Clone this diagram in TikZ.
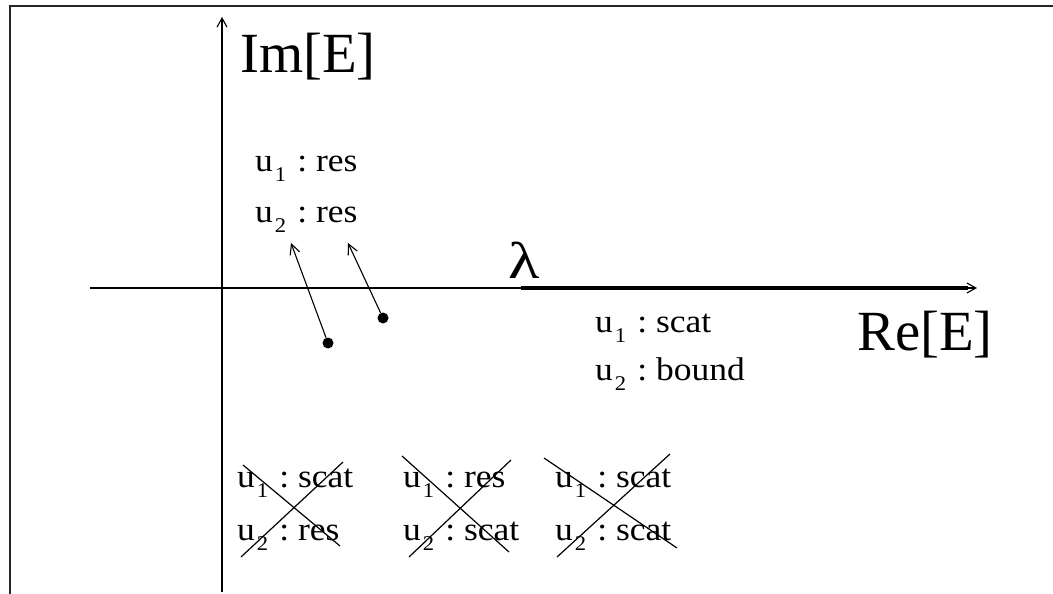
\documentclass[tikz,border=0pt]{standalone}
\usepackage{fontspec}
\setmainfont{Liberation Serif}
\newfontfamily\lblfont[FakeStretch=1.08]{Liberation Serif}
\newfontfamily\lamfont[FakeStretch=1.25]{Liberation Serif}
\usetikzlibrary{arrows.meta}
\newcommand{\ulab}[2]{u\kern2bp\raisebox{-10bp}{\fontsize{21}{21}\selectfont #1}\kern11bp:\ #2}
\begin{document}
\begin{tikzpicture}[x=1bp,y=-1bp,
  frameline/.style={line width=1.5bp, draw=black!85},
  axis/.style={line width=1.1bp, -{Straight Barb[length=9bp,width=10bp]}},
  thickseg/.style={line width=3.4bp},
  ptr/.style={line width=1.1bp, -{Straight Barb[length=10bp,width=10bp]}},
  dotnode/.style={circle, fill=black, inner sep=0pt, minimum size=11bp},
  xline/.style={line width=1.2bp},
  lbl/.style={anchor=base west, inner sep=0pt, font=\lblfont\fontsize{33}{38}\selectfont},
  bigtxt/.style={anchor=base west, inner sep=0pt, font=\fontsize{57}{62}\selectfont}]
\useasboundingbox (0,0) rectangle (1053,594);
% frame
\coordinate (f0) at (10,594);
\coordinate (f1) at (10,6);
\coordinate (f2) at (1053,6);
\draw[frameline] (f0) -- (f1) -- (f2);
% axes
\coordinate (vy0) at (222,592);
\coordinate (vy1) at (222,17);
\coordinate (hx0) at (90,288);
\coordinate (hx1) at (977,288);
\coordinate (lam0) at (521,288);
\coordinate (lam1) at (968,288);
\draw[axis] (vy0) -- (vy1);
\draw[axis] (hx0) -- (hx1);
\draw[thickseg] (lam0) -- (lam1);
% axis labels
\node[bigtxt] (im) at (240,73) {Im[E]};
\node[bigtxt] (re) at (857,350) {Re[E]};
\node[anchor=base west, inner sep=0pt, font=\lamfont\fontsize{52}{58}\selectfont] (lam) at (508,279) {λ};
% upper labels
\node[lbl] (ur1) at (255,172) {\ulab{1}{res}};
\node[lbl] (ur2) at (255,223) {\ulab{2}{res}};
% right labels
\node[lbl] (rs1) at (595,332) {\ulab{1}{scat}};
\node[lbl] (rs2) at (595,380) {\ulab{2}{bound}};
% dots and arrows
\node[dotnode] (d1) at (328,343) {};
\node[dotnode] (d2) at (383,318) {};
\coordinate (t1) at (291,243);
\coordinate (t2) at (348,243);
\draw[ptr] (d1) -- (t1);
\draw[ptr] (d2) -- (t2);
% crossed-out groups
\node[lbl] (ga1) at (237,487) {\ulab{1}{scat}};
\node[lbl] (ga2) at (237,540) {\ulab{2}{res}};
\node[lbl] (gb1) at (403,487) {\ulab{1}{res}};
\node[lbl] (gb2) at (403,540) {\ulab{2}{scat}};
\node[lbl] (gc1) at (555,487) {\ulab{1}{scat}};
\node[lbl] (gc2) at (555,540) {\ulab{2}{scat}};
\coordinate (a1) at (243,465); \coordinate (a2) at (340,546);
\coordinate (a3) at (241,557); \coordinate (a4) at (343,462);
\coordinate (b1) at (402,456); \coordinate (b2) at (509,552);
\coordinate (b3) at (409,557); \coordinate (b4) at (511,460);
\coordinate (c1) at (544,458); \coordinate (c2) at (677,548);
\coordinate (c3) at (557,557); \coordinate (c4) at (670,454);
\draw[xline] (a1) -- (a2); \draw[xline] (a3) -- (a4);
\draw[xline] (b1) -- (b2); \draw[xline] (b3) -- (b4);
\draw[xline] (c1) -- (c2); \draw[xline] (c3) -- (c4);
\end{tikzpicture}
\end{document}
